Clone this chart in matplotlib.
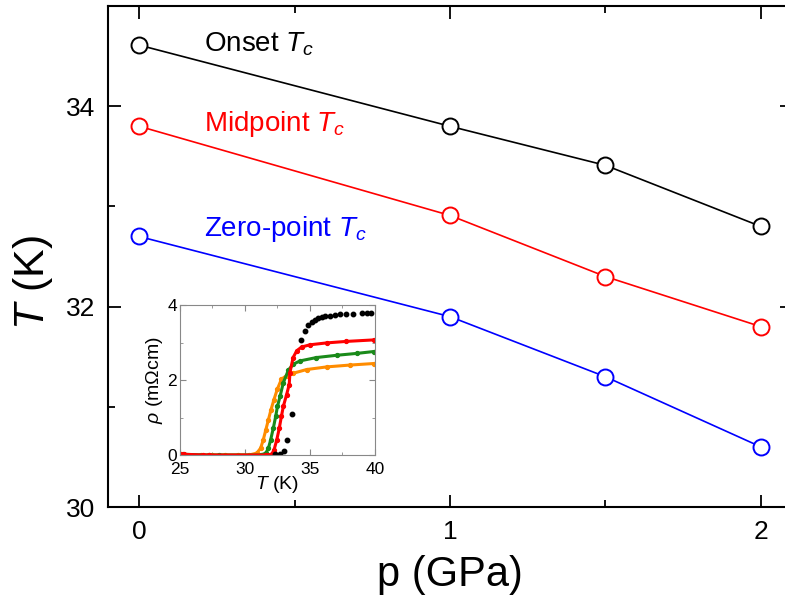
import numpy as np
import matplotlib
matplotlib.use('Agg')
import matplotlib.pyplot as plt

plt.rcParams['font.family'] = ['Liberation Sans', 'DejaVu Sans']
plt.rcParams['mathtext.fontset'] = 'custom'
plt.rcParams['mathtext.rm'] = 'Liberation Sans'
plt.rcParams['mathtext.it'] = 'Liberation Sans:italic'

# main panel: Tc vs pressure
pressure = [0, 1, 1.5, 2]
tc_onset = [34.61, 33.80, 33.41, 32.80]
tc_mid = [33.80, 32.91, 32.30, 31.80]
tc_zero = [32.70, 31.90, 31.30, 30.60]

# inset: resistivity curves rho(T)
T_black = [32.3, 32.7, 33.0, 33.23, 33.6, 34.33, 34.6, 34.87, 35.13, 35.4, 35.64, 35.9,
           36.15, 36.54, 36.9, 37.3, 37.8, 38.3, 39.0, 39.4, 39.7]
rho_black = [0.03, 0.03, 0.10, 0.40, 1.09, 3.07, 3.32, 3.47, 3.56, 3.61, 3.65, 3.67,
             3.70, 3.72, 3.74, 3.75, 3.76, 3.77, 3.78, 3.78, 3.79]

T_red = [25.1, 25.3, 26.8, 27.2, 31.6, 32.05, 32.23, 32.44, 32.64, 32.8, 32.95, 33.2,
         33.4, 33.46, 33.7, 33.98, 34.35, 35.0, 36.28, 37.8, 39.9]
rho_red = [0.02, 0.02, 0.0, 0.0, 0.0, 0.02, 0.13, 0.40, 0.72, 1.03, 1.30, 1.61,
           1.88, 2.20, 2.60, 2.78, 2.88, 2.94, 2.99, 3.03, 3.07]

T_green = [25.0, 25.2, 27.2, 28.0, 31.2, 31.6, 31.8, 31.97, 32.18, 32.36, 32.5, 32.7,
           32.95, 33.33, 33.7, 34.23, 35.5, 37.05, 38.6, 39.9]
rho_green = [0.02, 0.02, 0.0, 0.0, 0.0, 0.05, 0.18, 0.40, 0.72, 1.03, 1.30, 1.57,
             1.93, 2.26, 2.42, 2.51, 2.60, 2.66, 2.71, 2.76]

T_orange = [26.6, 27.5, 28.5, 29.5, 30.3, 30.9, 31.2, 31.4, 31.6, 31.8, 32.0, 32.23,
            32.48, 32.8, 33.2, 33.7, 34.74, 36.28, 38.1, 39.9]
rho_orange = [0.0, 0.0, 0.0, 0.0, 0.0, 0.05, 0.18, 0.40, 0.67, 0.94, 1.21, 1.48,
              1.75, 2.02, 2.12, 2.18, 2.28, 2.35, 2.40, 2.44]

fig = plt.figure(figsize=(7.85, 6.08), dpi=100)
ax = fig.add_axes([0.1376, 0.1661, 0.8713, 0.8240])

for y, c in [(tc_onset, 'black'), (tc_mid, '#ff0000'), (tc_zero, '#0000ff')]:
    ax.plot(pressure, y, '-o', color=c, lw=1.2, ms=11.5, mfc='white', mec=c, mew=1.4)

ax.set_xlim(-0.1, 2.1)
ax.set_ylim(30, 35)
ax.set_xticks([0, 1, 2])
ax.set_xticks([0.5, 1.5], minor=True)
ax.set_yticks([30, 32, 34])
ax.set_yticks([31, 33, 35], minor=True)
ax.tick_params(which='both', direction='in', top=True, right=True, width=1.3)
ax.tick_params(which='major', length=9, labelsize=19, pad=9)
ax.tick_params(which='minor', length=5)
for s in ax.spines.values():
    s.set_linewidth(1.5)

ax.set_xlabel('p (GPa)', fontsize=30, labelpad=8)
ax.set_ylabel(r'$T$ (K)', fontsize=31)
ax.yaxis.set_label_coords(-0.078, 0.447)

ax.text(0.21, 34.55, r'Onset $T_c$', fontsize=20, color='black')
ax.text(0.21, 33.75, r'Midpoint $T_c$', fontsize=20, color='#ff0000')
ax.text(0.21, 32.70, r'Zero-point $T_c$', fontsize=20, color='#0000ff')

# inset
ins = fig.add_axes([0.2293, 0.2516, 0.2484, 0.2467])
ins.plot(T_orange, rho_orange, '-o', color='#ff8c00', lw=2.2, ms=2.8)
ins.plot(T_green, rho_green, '-o', color='#1a8a1a', lw=2.2, ms=2.8)
ins.plot(T_red, rho_red, '-o', color='#ff0000', lw=2.2, ms=2.8)
ins.plot(T_black, rho_black, 'o', color='black', ms=3.2)
ins.set_xlim(25, 40)
ins.set_ylim(0, 4)
ins.set_xticks([25, 30, 35, 40])
ins.set_xticks([27.5, 32.5, 37.5], minor=True)
ins.set_yticks([0, 2, 4])
ins.set_yticks([1, 3], minor=True)
ins.tick_params(which='both', direction='in', top=True, right=True, color='#888888')
ins.tick_params(which='major', length=4, labelsize=12.5, pad=2)
ins.tick_params(axis='x', which='major', pad=5)
ins.tick_params(which='minor', length=2.5)
for s in ins.spines.values():
    s.set_color('#888888')
ins.set_xlabel(r'$T$ (K)', fontsize=14, labelpad=-2)
ins.set_ylabel(r'$\rho$ (m$\Omega$cm)', fontsize=14, labelpad=2)

fig.savefig('out.png', dpi=100)
